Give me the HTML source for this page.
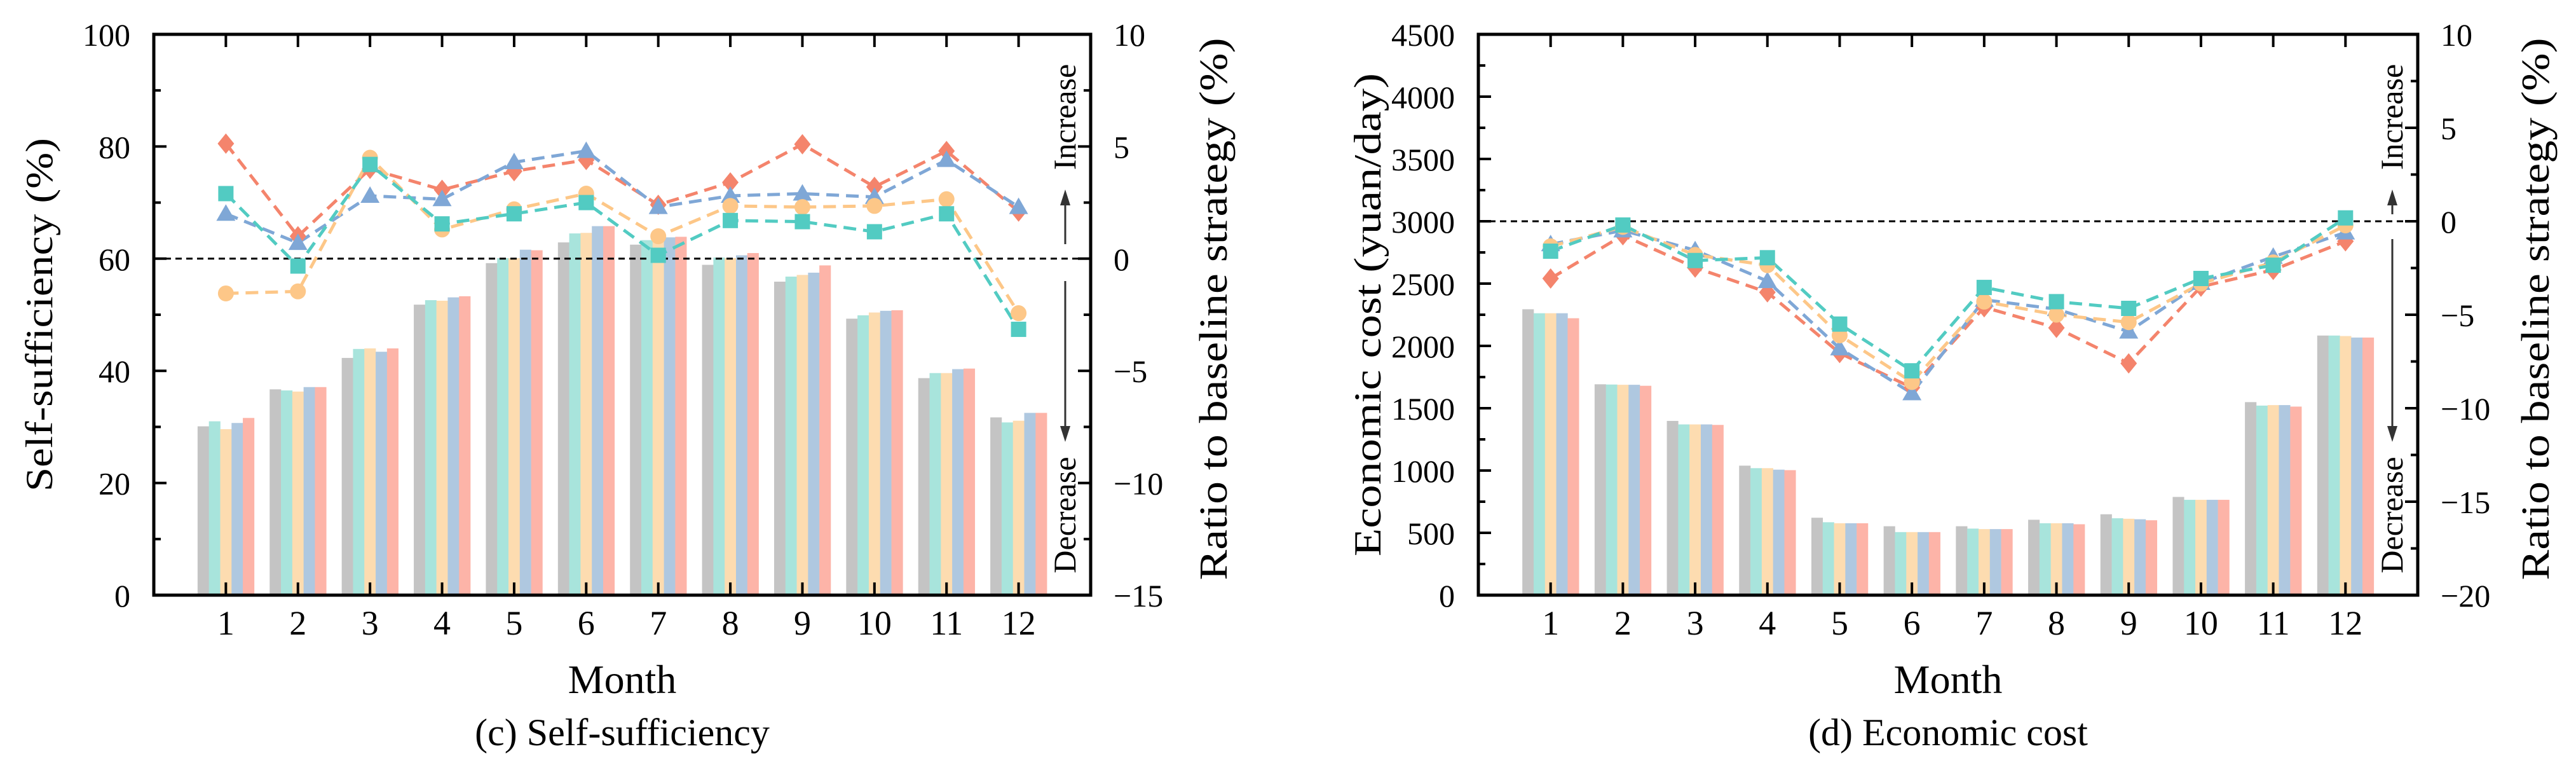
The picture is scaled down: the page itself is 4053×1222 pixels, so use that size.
<!DOCTYPE html>
<html><head><meta charset="utf-8"><style>
html,body{margin:0;padding:0;background:#fff}
svg{display:block}
text{font-family:"Liberation Serif",serif;fill:#000}
</style></head><body>
<svg id="chart" width="4053" height="1222" viewBox="0 0 4053 1222" xmlns="http://www.w3.org/2000/svg"></svg>
<script>
const months = [1,2,3,4,5,6,7,8,9,10,11,12];
const barColors = ['#c4c4c4','#a8e4dc','#fddcb0','#afc8e0','#fdb4a8'];
const lineColors = ['#f4846c','#7fa7d6','#fdc788','#52cbc2'];
const lineMarkers = ['diamond','triangle','circle','square'];
// Panel c: self-sufficiency bars (%)
const ssBar0 = [30.1,36.7,42.3,51.8,59.2,62.9,62.5,58.9,55.9,49.3,38.7,31.7];
const ssBar1 = [31.0,36.5,43.9,52.6,60.1,64.5,63.3,60.2,56.8,49.9,39.6,30.8];
const ssBar2 = [29.6,36.3,44.0,52.5,60.1,64.6,63.3,60.1,57.1,50.4,39.6,31.1];
const ssBar3 = [30.7,37.1,43.4,53.1,61.6,65.8,63.8,60.6,57.5,50.7,40.3,32.5];
const ssBar4 = [31.6,37.1,44.0,53.3,61.5,65.8,63.9,61.0,58.8,50.8,40.4,32.5];
// Panel c: ratio lines (%)
const ssLine0 = [5.13,1.0,4.0,3.07,3.9,4.4,2.4,3.4,5.1,3.2,4.8,2.1];
const ssLine1 = [2.0,0.7,2.8,2.65,4.3,4.8,2.3,2.8,2.9,2.75,4.4,2.3];
const ssLine2 = [-1.55,-1.46,4.5,1.3,2.2,2.9,1.0,2.35,2.3,2.35,2.65,-2.43];
const ssLine3 = [2.9,-0.33,4.2,1.55,2.0,2.5,0.15,1.7,1.65,1.2,2.0,-3.15];
const ssLeftTicks = [0,20,40,60,80,100];
const ssRightTicks = [-15,-10,-5,0,5,10];
// Panel d: economic cost bars (yuan/day)
const ecBar0 = [2294,1692,1398,1039,621,553,553,605,649,788,1549,2083];
const ecBar1 = [2262,1690,1370,1019,585,506,534,577,617,765,1521,2083];
const ecBar2 = [2262,1688,1370,1019,577,506,530,577,613,765,1525,2079];
const ecBar3 = [2262,1688,1370,1007,577,506,530,577,609,765,1525,2067];
const ecBar4 = [2222,1680,1366,1003,577,506,530,569,601,765,1513,2067];
// Panel d: ratio lines (%)
const ecLine0 = [-3.06,-0.75,-2.48,-3.8,-7.05,-8.9,-4.6,-5.7,-7.6,-3.5,-2.6,-1.07];
const ecLine1 = [-1.23,-0.49,-1.55,-3.2,-6.8,-9.2,-4.2,-4.7,-5.9,-3.3,-1.9,-0.6];
const ecLine2 = [-1.34,-0.3,-1.8,-2.35,-6.1,-8.6,-4.3,-5.0,-5.4,-3.33,-2.2,-0.22];
const ecLine3 = [-1.6,-0.2,-2.1,-1.95,-5.5,-8.0,-3.54,-4.3,-4.66,-3.06,-2.35,0.18];
const ecLeftTicks = [0,500,1000,1500,2000,2500,3000,3500,4000,4500];
const ecRightTicks = [-20,-15,-10,-5,0,5,10];

const NS='http://www.w3.org/2000/svg';
const svg=document.getElementById('chart');
function mk(tag,attrs,parent){const e=document.createElementNS(NS,tag);for(const k in attrs)e.setAttribute(k,attrs[k]);(parent||svg).appendChild(e);return e;}

function panel(o){
  const g=mk('g',{});
  
  
  const X0=o.x0,X1=o.x1,Y0=54,Y1=936;
  const xs=m=>X0+(X1-X0)*m/13;
  const yl=v=>Y1-(Y1-Y0)*(v-o.lmin)/(o.lmax-o.lmin);
  const yr=v=>Y1-(Y1-Y0)*(v-o.rmin)/(o.rmax-o.rmin);
  const bw=17.8;
  // bars
  o.bars.forEach((arr,si)=>{
    arr.forEach((v,i)=>{
      const cx=xs(months[i]);
      const r=mk('rect',{x:cx-2.5*bw+si*bw,y:yl(v),width:bw+0.3,height:Y1-yl(v),fill:barColors[si]},g);
      
      
    });
  });
  // zero line
  const zl=mk('line',{x1:X0,x2:X1,y1:yr(0),y2:yr(0),stroke:'#000','stroke-width':3,'stroke-dasharray':'10,7'},g);
  
  
  // lines
  o.lines.forEach((arr,si)=>{
    const pts=arr.map((v,i)=>xs(months[i])+','+yr(v)).join(' ');
    const pl=mk('polyline',{points:pts,fill:'none',stroke:lineColors[si],'stroke-width':5,'stroke-dasharray':'20,11'},g);
    
    
  });
  o.lines.forEach((arr,si)=>{
    arr.forEach((v,i)=>{
      const x=xs(months[i]),y=yr(v),c=lineColors[si];let m;
      if(lineMarkers[si]==='diamond')m=mk('polygon',{points:`${x},${y-16} ${x+13},${y} ${x},${y+16} ${x-13},${y}`,fill:c},g);
      else if(lineMarkers[si]==='triangle')m=mk('polygon',{points:`${x},${y-15} ${x+15},${y+11} ${x-15},${y+11}`,fill:c},g);
      else if(lineMarkers[si]==='circle')m=mk('circle',{cx:x,cy:y,r:12.5,fill:c},g);
      else m=mk('rect',{x:x-12,y:y-12,width:24,height:24,fill:c},g);
      
      
    });
  });
  // frame
  const fr=mk('rect',{x:X0,y:Y0,width:X1-X0,height:Y1-Y0,fill:'none',stroke:'#000','stroke-width':5},g);
  
  
  // month ticks
  months.forEach(m=>{
    const x=xs(m);
    mk('line',{x1:x,x2:x,y1:Y0,y2:Y0+20,stroke:'#000','stroke-width':4},g);
    mk('line',{x1:x,x2:x,y1:Y1,y2:Y1-20,stroke:'#000','stroke-width':4},g);
    const t=mk('text',{x:x,y:998,'font-size':54,'text-anchor':'middle'},g);t.textContent=m;
    
    
  });
  // left ticks
  o.lt.forEach((v,i)=>{
    const y=yl(v);
    mk('line',{x1:X0,x2:X0+20,y1:y,y2:y,stroke:'#000','stroke-width':4},g);
    if(i<o.lt.length-1){const ym=yl((v+o.lt[i+1])/2);mk('line',{x1:X0,x2:X0+11,y1:ym,y2:ym,stroke:'#000','stroke-width':4},g);}
    const t=mk('text',{x:X0-37,y:y+18,'font-size':50,'text-anchor':'end'},g);t.textContent=v;
    
    
  });
  o.rt.forEach((v,i)=>{
    const y=yr(v);
    mk('line',{x1:X1,x2:X1-20,y1:y,y2:y,stroke:'#000','stroke-width':4},g);
    if(i<o.rt.length-1){const ym=yr((v+o.rt[i+1])/2);mk('line',{x1:X1,x2:X1-11,y1:ym,y2:ym,stroke:'#000','stroke-width':4},g);}
    const t=mk('text',{x:X1+36,y:y+18,'font-size':50,'text-anchor':'start'},g);t.textContent=(v<0?'\u2212'+(-v):v);
    
    
  });
  // increase/decrease
  const ax=X1-40;
  const inc=mk('text',{transform:`translate(${ax+16},184) rotate(-90)`,'font-size':50,'text-anchor':'middle'},g);inc.textContent='Increase';
  
  
  const dec=mk('text',{transform:`translate(${ax+16},810) rotate(-90)`,'font-size':50,'text-anchor':'middle'},g);dec.textContent='Decrease';
  
  
  const a1=mk('g',{},g);
  
  
  mk('line',{x1:ax,x2:ax,y1:o.incFrom,y2:315,stroke:'#333','stroke-width':3},a1);
  mk('polygon',{points:`${ax},298 ${ax+8},323 ${ax-8},323`,fill:'#333'},a1);
  const a2=mk('g',{},g);
  
  
  mk('line',{x1:ax,x2:ax,y1:o.decFrom,y2:680,stroke:'#333','stroke-width':3},a2);
  mk('polygon',{points:`${ax},695 ${ax+8},670 ${ax-8},670`,fill:'#333'},a2);
  // titles
  const lt=mk('text',{transform:`translate(${o.ltx},${(Y0+Y1)/2}) rotate(-90)`,'font-size':60,'text-anchor':'middle',textLength:o.ltLen,lengthAdjust:'spacingAndGlyphs'},g);lt.textContent=o.ltitle;
  
  
  const rt=mk('text',{transform:`translate(${o.rtx},486) rotate(-90)`,'font-size':62,'text-anchor':'middle',textLength:853,lengthAdjust:'spacingAndGlyphs'},g);rt.textContent='Ratio to baseline strategy (%)';
  
  
  const xt=mk('text',{x:(X0+X1)/2,y:1090,'font-size':64,'text-anchor':'middle'},g);xt.textContent='Month';
  
  
  const cp=mk('text',{x:(X0+X1)/2,y:1172,'font-size':60,'text-anchor':'middle'},g);cp.textContent=o.caption;
  
  
}

panel({name:'panel-self-sufficiency',x0:242,x1:1716,lmin:0,lmax:100,rmin:-15,rmax:10,
  bars:[ssBar0,ssBar1,ssBar2,ssBar3,ssBar4],lines:[ssLine0,ssLine1,ssLine2,ssLine3],
  lt:ssLeftTicks,rt:ssRightTicks,ltx:82,ltLen:556,ltitle:'Self-sufficiency (%)',rtx:1930,
  caption:'(c) Self-sufficiency',incFrom:384,decFrom:442});
panel({name:'panel-economic-cost',x0:2326,x1:3804,lmin:0,lmax:4500,rmin:-20,rmax:10,
  bars:[ecBar0,ecBar1,ecBar2,ecBar3,ecBar4],lines:[ecLine0,ecLine1,ecLine2,ecLine3],
  lt:ecLeftTicks,rt:ecRightTicks,ltx:2172,ltLen:760,ltitle:'Economic cost (yuan/day)',rtx:4010,
  caption:'(d) Economic cost',incFrom:337,decFrom:376});
</script>
</body></html>
